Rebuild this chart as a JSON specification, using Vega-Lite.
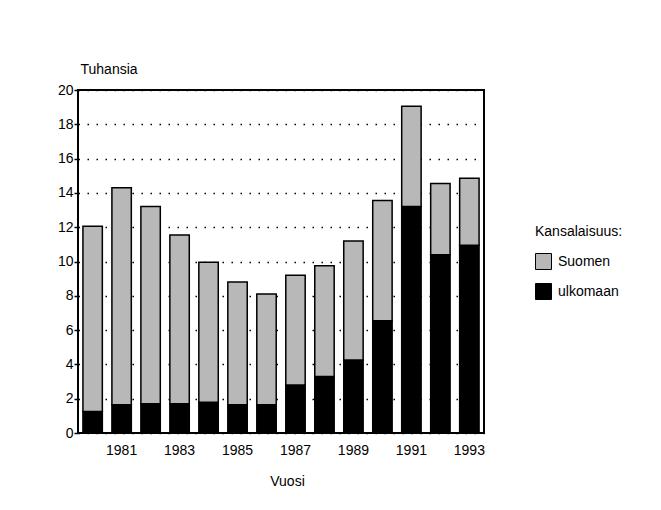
{
  "$schema": "https://vega.github.io/schema/vega-lite/v6.json",
  "width": 406,
  "height": 343,
  "autosize": "none",
  "padding": {"left": 78, "top": 90, "right": 177, "bottom": 77},
  "background": "white",
  "data": {
    "values": [
      {"vuosi": "1980", "kansalaisuus": "ulkomaan", "tuhansia": 1.25},
      {"vuosi": "1980", "kansalaisuus": "Suomen", "tuhansia": 10.8},
      {"vuosi": "1981", "kansalaisuus": "ulkomaan", "tuhansia": 1.65},
      {"vuosi": "1981", "kansalaisuus": "Suomen", "tuhansia": 12.65},
      {"vuosi": "1982", "kansalaisuus": "ulkomaan", "tuhansia": 1.7},
      {"vuosi": "1982", "kansalaisuus": "Suomen", "tuhansia": 11.5},
      {"vuosi": "1983", "kansalaisuus": "ulkomaan", "tuhansia": 1.7},
      {"vuosi": "1983", "kansalaisuus": "Suomen", "tuhansia": 9.85},
      {"vuosi": "1984", "kansalaisuus": "ulkomaan", "tuhansia": 1.8},
      {"vuosi": "1984", "kansalaisuus": "Suomen", "tuhansia": 8.15},
      {"vuosi": "1985", "kansalaisuus": "ulkomaan", "tuhansia": 1.65},
      {"vuosi": "1985", "kansalaisuus": "Suomen", "tuhansia": 7.15},
      {"vuosi": "1986", "kansalaisuus": "ulkomaan", "tuhansia": 1.65},
      {"vuosi": "1986", "kansalaisuus": "Suomen", "tuhansia": 6.45},
      {"vuosi": "1987", "kansalaisuus": "ulkomaan", "tuhansia": 2.8},
      {"vuosi": "1987", "kansalaisuus": "Suomen", "tuhansia": 6.4},
      {"vuosi": "1988", "kansalaisuus": "ulkomaan", "tuhansia": 3.3},
      {"vuosi": "1988", "kansalaisuus": "Suomen", "tuhansia": 6.45},
      {"vuosi": "1989", "kansalaisuus": "ulkomaan", "tuhansia": 4.25},
      {"vuosi": "1989", "kansalaisuus": "Suomen", "tuhansia": 6.95},
      {"vuosi": "1990", "kansalaisuus": "ulkomaan", "tuhansia": 6.55},
      {"vuosi": "1990", "kansalaisuus": "Suomen", "tuhansia": 7.0},
      {"vuosi": "1991", "kansalaisuus": "ulkomaan", "tuhansia": 13.2},
      {"vuosi": "1991", "kansalaisuus": "Suomen", "tuhansia": 5.85},
      {"vuosi": "1992", "kansalaisuus": "ulkomaan", "tuhansia": 10.4},
      {"vuosi": "1992", "kansalaisuus": "Suomen", "tuhansia": 4.15},
      {"vuosi": "1993", "kansalaisuus": "ulkomaan", "tuhansia": 10.95},
      {"vuosi": "1993", "kansalaisuus": "Suomen", "tuhansia": 3.9}
    ]
  },
  "mark": {"type": "bar", "stroke": "black", "strokeWidth": 1.5},
  "encoding": {
    "x": {
      "field": "vuosi",
      "type": "ordinal",
      "scale": {"paddingInner": 0.33, "paddingOuter": 0.17},
      "axis": {
        "title": "Vuosi",
        "labelAngle": 0,
        "labelExpr": "toNumber(datum.value) % 2 == 1 ? datum.value : ''",
        "ticks": false,
        "domain": false,
        "labelPadding": 10,
        "titleX": 209,
        "titleY": 52,
        "titleBaseline": "alphabetic"
      }
    },
    "y": {
      "field": "tuhansia",
      "type": "quantitative",
      "stack": "zero",
      "scale": {"domain": [0, 20], "nice": false},
      "axis": {
        "title": "Tuhansia",
        "titleAngle": 0,
        "titleX": 2,
        "titleY": -17,
        "titleAlign": "left",
        "titleBaseline": "alphabetic",
        "values": [0, 2, 4, 6, 8, 10, 12, 14, 16, 18, 20],
        "domain": false,
        "tickSize": 4,
        "tickColor": "black",
        "tickWidth": 1.5,
        "labelPadding": 1,
        "grid": true,
        "gridColor": "black",
        "gridDash": [1.5, 7.5],
        "gridWidth": 1.3,
        "gridOpacity": 1
      }
    },
    "color": {
      "field": "kansalaisuus",
      "type": "nominal",
      "scale": {"domain": ["Suomen", "ulkomaan"], "range": ["#b8b8b8", "#000000"]},
      "legend": {
        "title": "Kansalaisuus:",
        "orient": "none",
        "legendX": 457,
        "legendY": 135,
        "symbolType": "square",
        "symbolSize": 256,
        "symbolStrokeColor": "black",
        "symbolStrokeWidth": 1,
        "rowPadding": 9,
        "labelOffset": 6,
        "titlePadding": 14
      }
    },
    "order": {"field": "kansalaisuus", "sort": "descending"}
  },
  "config": {
    "font": "Liberation Sans",
    "view": {"stroke": "black", "strokeWidth": 2},
    "axis": {
      "labelFont": "Liberation Sans",
      "labelFontSize": 14,
      "labelColor": "black",
      "titleFont": "Liberation Sans",
      "titleFontSize": 14,
      "titleFontWeight": "normal",
      "titleColor": "black"
    },
    "legend": {
      "labelFont": "Liberation Sans",
      "labelFontSize": 14,
      "labelColor": "black",
      "titleFont": "Liberation Sans",
      "titleFontSize": 14,
      "titleFontWeight": "normal",
      "titleColor": "black"
    }
  }
}
